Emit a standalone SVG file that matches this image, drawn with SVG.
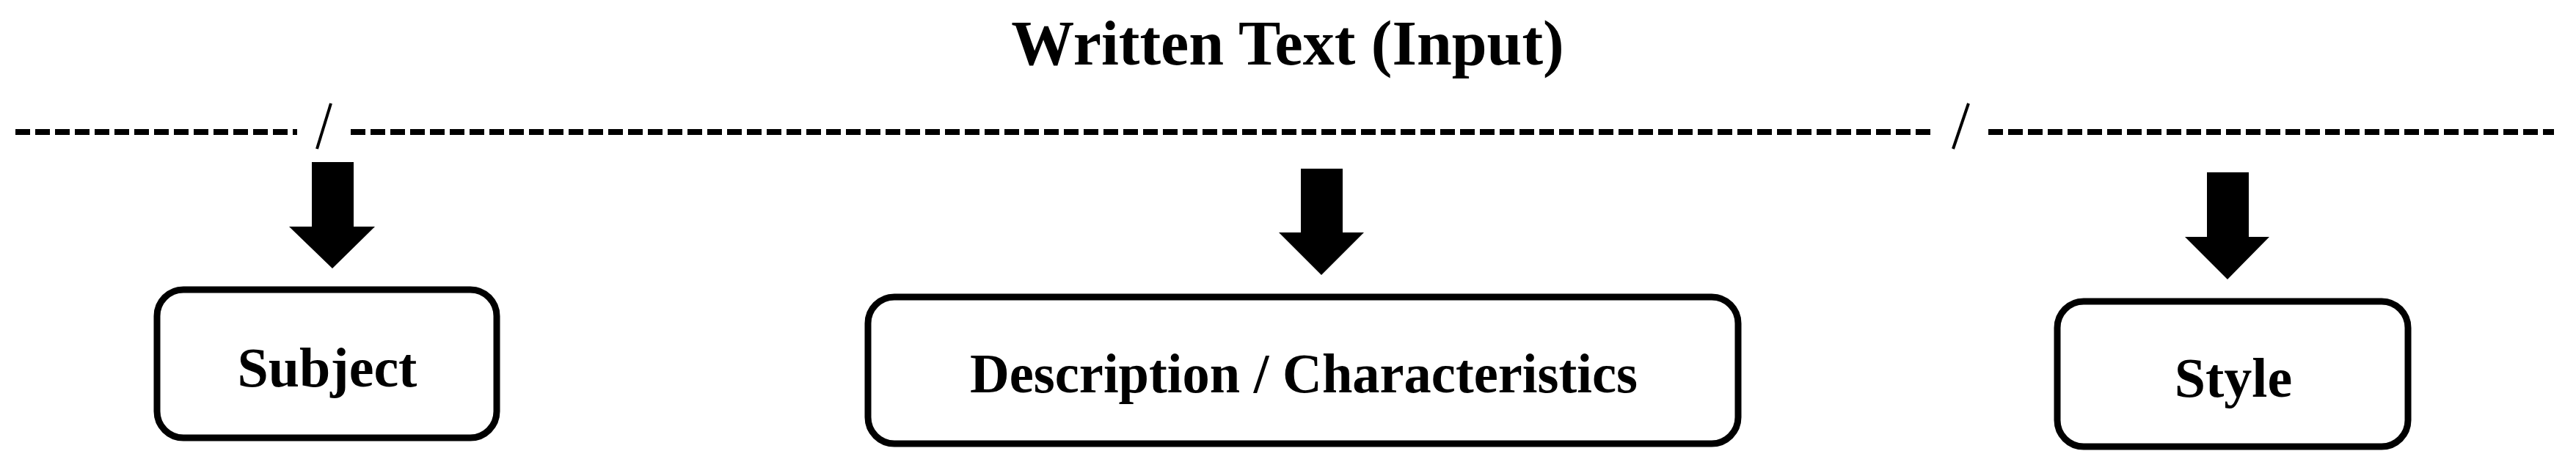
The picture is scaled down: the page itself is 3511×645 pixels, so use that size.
<svg xmlns="http://www.w3.org/2000/svg" width="3511" height="645" viewBox="0 0 3511 645">
<style>
text{font-family:"Liberation Serif","Times New Roman",serif;font-weight:bold;fill:#000;text-anchor:middle}
.box{fill:#fff;stroke:#000;stroke-width:9}
.dash{stroke:#000;stroke-width:8;stroke-dasharray:20 7;fill:none}
.slash{stroke:#000;stroke-width:4}
.arr{fill:#000}
</style>
<rect width="3511" height="645" fill="#fff"/>
<g id="title"><text x="1755" y="88" font-size="86">Written Text (Input)</text></g>
<g id="divider">
<line class="dash" x1="21" y1="180" x2="405" y2="180"/>
<line class="slash" x1="451" y1="141" x2="432" y2="203"/>
<line class="dash" x1="478" y1="180" x2="2637" y2="180"/>
<line class="slash" x1="2683" y1="141" x2="2662" y2="203"/>
<line class="dash" x1="2710" y1="180" x2="3481" y2="180"/>
</g>
<g id="connectors">
<path class="arr" d="M425 221H482V309H511L453 366L394 309H425Z"/>
<path class="arr" d="M1773 230H1830V317H1859L1801 375L1743 317H1773Z"/>
<path class="arr" d="M3008 235H3065V323H3093L3036 381L2978 323H3008Z"/>
</g>
<g id="subject"><rect class="box" x="214" y="395" width="463" height="202" rx="36"/><text x="446" y="527" font-size="76">Subject</text></g>
<g id="description"><rect class="box" x="1183" y="405" width="1186" height="200" rx="36"/><text x="1777" y="535" font-size="76" textLength="910" lengthAdjust="spacingAndGlyphs">Description / Characteristics</text></g>
<g id="style"><rect class="box" x="2804" y="411" width="478" height="198" rx="36"/><text x="3044" y="541" font-size="76">Style</text></g>
</svg>
